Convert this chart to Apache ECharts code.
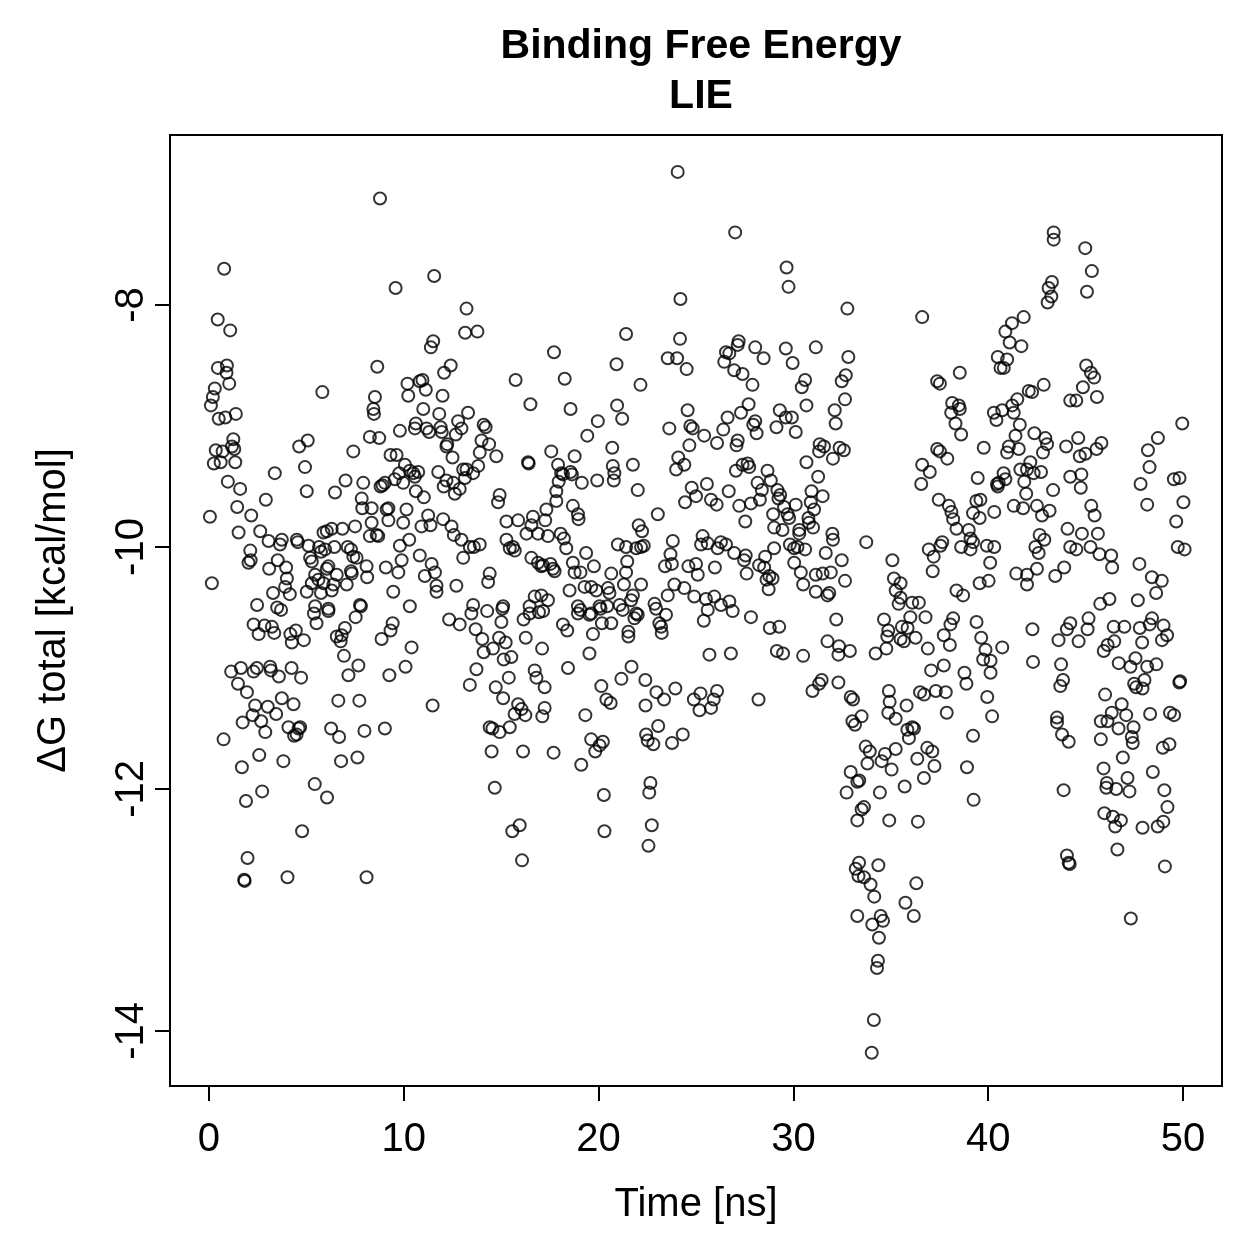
<!DOCTYPE html>
<html>
<head>
<meta charset="utf-8">
<script src="https://cdn.jsdelivr.net/npm/echarts@6/dist/echarts.min.js"></script>
<style>
  html, body { margin: 0; padding: 0; background: #fff; }
  #chart { width: 1259px; height: 1259px; }
</style>
</head>
<body>
<div id="chart"></div>
<script>
// axis ticks
var xTicks = [0, 10, 20, 30, 40, 50]
var yTicks = [-14, -12, -10, -8]

// [time ns, dG kcal/mol], grouped by 10 ns
var run0to10 = [
  [0.05,-9.75],[0.15,-10.30],[0.1,-8.83],[0.2,-8.76],[0.3,-8.69],[0.45,-8.12],[0.46,-8.52],[0.5,-8.94],[0.25,-9.31],[0.35,-9.20],
  [0.6,-9.30],[0.7,-9.21],[0.78,-7.70],[0.84,-8.93],[0.92,-8.50],[0.9,-8.56],[1.04,-8.65],[0.97,-9.46],[1.09,-8.21],[1.25,-9.11],
  [1.18,-9.17],[1.3,-9.19],[1.38,-8.90],[1.35,-9.30],[1.45,-9.67],[1.6,-9.52],[2.17,-9.74],[2.92,-9.61],[3.38,-9.39],[4.63,-9.17],
  [5.07,-9.12],[4.93,-9.34],[5.02,-9.54],[7.41,-9.21],[6.47,-9.55],[7.01,-9.45],[7.92,-9.47],[7.84,-9.60],[7.87,-9.68],[5.82,-8.72],
  [1.14,-11.03],[1.64,-11.0],[1.49,-11.13],[1.95,-11.20],[2.37,-11.31],[2.24,-11.39],[1.73,-11.45],[0.75,-11.59],[2.68,-11.44],[2.89,-11.53],
  [3.02,-11.32],[3.45,-11.38],[3.74,-11.25],[4.34,-11.30],[1.69,-11.82],[2.58,-11.72],[3.82,-11.77],[1.9,-12.10],[2.73,-12.02],[1.98,-12.57],
  [1.81,-12.75],[1.83,-12.76],[4.03,-12.73],[4.78,-12.35],[5.43,-11.96],[6.06,-12.07],[4.08,-11.49],[4.6,-11.50],[4.68,-11.49],[4.37,-11.56],
  [4.5,-11.55],[6.27,-11.50],[6.68,-11.57],[7.98,-11.52],[6.78,-11.77],[7.62,-11.74],[6.64,-11.27],[7.72,-11.27],[6.93,-10.90],[7.16,-11.06],
  [7.67,-10.98],[6.56,-10.74],[6.81,-10.73],[6.76,-10.78],[6.98,-10.67],[7.53,-10.58],[7.8,-10.49],[5.39,-10.55],[6.13,-10.53],[5.52,-10.63],
  [2.29,-10.64],[2.55,-10.72],[2.85,-10.65],[3.23,-10.66],[3.35,-10.71],[2.47,-10.48],[3.5,-10.50],[3.7,-10.52],[4.18,-10.72],[4.46,-10.69],
  [4.25,-10.79],[4.87,-10.77],[2.29,-11.03],[2.46,-11.0],[3.14,-10.99],[3.18,-11.02],[3.59,-11.07],[4.24,-11.0],[4.73,-11.08],
  [1.52,-9.88],[2.12,-10.03],[2.03,-10.13],[2.14,-10.11],[2.63,-9.87],[3.06,-9.95],[3.74,-9.94],[3.65,-9.98],[3.53,-10.11],[3.09,-10.18],
  [3.96,-10.17],[4.0,-10.26],[3.91,-10.33],[4.15,-10.39],[3.29,-10.38],[4.51,-9.94],[4.56,-9.96],[5.11,-9.99],[5.65,-10.00],[5.88,-9.88],
  [6.05,-9.87],[6.3,-9.85],[6.85,-9.85],[7.5,-9.83],[5.19,-10.09],[5.28,-10.12],[5.75,-10.04],[5.96,-10.02],[6.44,-10.0],[7.12,-10.0],
  [7.29,-10.02],[7.41,-10.08],[7.58,-10.09],[6.13,-10.16],[6.05,-10.18],[6.56,-10.23],[5.45,-10.23],[5.62,-10.27],[5.28,-10.30],[5.88,-10.30],
  [6.39,-10.31],[7.07,-10.31],[7.29,-10.20],[7.33,-10.22],[8.09,-10.16],[8.12,-10.25],[5.02,-10.37],[5.75,-10.38],[6.3,-10.36],[5.45,-10.49],
  [6.13,-10.51],[7.75,-10.48],
  [8.78,-7.12],[9.58,-7.86],[8.64,-8.51],[8.52,-8.76],[8.44,-8.86],[8.47,-8.90],[9.8,-9.04],[8.26,-9.09],[8.74,-9.10],[9.32,-9.24],
  [9.63,-9.24],[9.77,-9.39],[9.54,-9.44],[9.97,-9.47],[8.81,-9.50],[8.91,-9.49],[9.03,-9.47],[9.21,-9.68],[9.12,-9.69],[8.35,-9.68],
  [9.97,-9.80],[9.21,-9.78],[8.35,-9.80],[8.61,-9.90],[8.26,-9.91],[8.69,-9.91],[9.8,-9.99],[9.89,-10.11],[9.72,-10.21],[9.08,-10.17],
  [9.46,-10.37],[9.43,-10.63],[9.32,-10.69],[8.86,-10.76],[9.26,-11.06],[9.03,-11.50],[8.09,-12.73]
]

var run10to20 = [
  [10.19,-8.65],[10.82,-8.63],[10.96,-8.62],[11.13,-8.70],[10.23,-8.75],[11.56,-7.76],[13.22,-8.03],[13.15,-8.23],[13.78,-8.22],[11.51,-8.30],
  [11.39,-8.35],[12.41,-8.50],[12.07,-8.56],[15.74,-8.62],[16.5,-8.82],[11.99,-8.75],[11.0,-8.86],[11.82,-8.90],[13.3,-8.89],[10.62,-8.98],
  [10.57,-9.02],[11.17,-9.02],[11.3,-9.05],[11.89,-9.01],[11.95,-9.05],[12.79,-8.96],[12.96,-9.02],[12.67,-9.07],[14.1,-8.99],[14.2,-9.01],
  [13.99,-9.12],[14.38,-9.15],[12.23,-9.15],[12.19,-9.17],[12.5,-9.26],[13.9,-9.22],[14.75,-9.25],[16.38,-9.30],[16.41,-9.31],[10.06,-9.32],
  [10.31,-9.37],[10.49,-9.39],[10.74,-9.38],[10.57,-9.42],[11.77,-9.38],[12.19,-9.45],[12.05,-9.50],[12.54,-9.47],[12.62,-9.56],[12.87,-9.52],
  [13.05,-9.36],[13.22,-9.36],[13.56,-9.39],[13.82,-9.33],[13.14,-9.43],[10.62,-9.54],[11.03,-9.59],[14.92,-9.57],[14.84,-9.63],[10.14,-9.69],
  [11.25,-9.74],[11.37,-9.82],[10.91,-9.83],[12.02,-9.77],[12.45,-9.83],[12.57,-9.90],[12.96,-9.94],[13.39,-10.00],[13.6,-10.00],[13.9,-9.98],
  [10.28,-9.94],[10.82,-10.07],[11.43,-10.14],[11.6,-10.21],[11.08,-10.24],[11.68,-10.32],[11.68,-10.37],[12.7,-10.32],[13.05,-10.09],[10.31,-10.49],
  [14.41,-10.22],[14.33,-10.29],[13.56,-10.48],[15.1,-10.49],[15.27,-9.79],[15.87,-9.78],[16.63,-9.75],[16.55,-9.82],[16.89,-9.89],[17.32,-9.69],
  [15.27,-9.94],[15.61,-10.0],[15.7,-10.03],[15.44,-10.01],[16.3,-9.89],[16.55,-10.09],[16.89,-10.13],[17.06,-10.16],[16.72,-10.41],[17.06,-10.40],
  [16.46,-10.49],[10.4,-10.83],[10.09,-10.99],[11.48,-11.31],[12.33,-10.60],[12.87,-10.64],[13.47,-10.55],[14.28,-10.53],[15.06,-10.51],[15.01,-10.62],
  [13.69,-10.68],[14.03,-10.76],[14.58,-10.84],[14.1,-10.87],[14.89,-10.75],[15.23,-10.79],[15.13,-10.93],[15.52,-10.91],[13.73,-11.01],[13.39,-11.14],
  [14.72,-11.16],[15.39,-11.08],[15.1,-11.25],[16.15,-10.60],[16.46,-10.55],[16.94,-10.54],[16.26,-10.75],[17.1,-10.84],[16.72,-11.02],[16.81,-11.08],
  [17.23,-11.16],[15.87,-11.30],[16.04,-11.34],[16.24,-11.39],[15.69,-11.38],[17.11,-11.40],[17.23,-11.33],[14.41,-11.49],[14.55,-11.50],[14.92,-11.53],
  [15.44,-11.49],[14.51,-11.69],[16.12,-11.69],[14.67,-11.99],[15.95,-12.30],[15.57,-12.35],[16.07,-12.59],
  [17.71,-8.39],[18.26,-8.61],[18.56,-8.86],[19.96,-8.96],[19.42,-9.08],[17.57,-9.21],[18.77,-9.25],[17.92,-9.32],[18.08,-9.39],[18.17,-9.40],
  [18.56,-9.38],[18.63,-9.40],[17.95,-9.46],[19.14,-9.47],[19.93,-9.45],[17.83,-9.54],[17.83,-9.62],[18.68,-9.66],[18.94,-9.73],[18.97,-9.77],
  [17.26,-9.78],[17.4,-9.91],[18.05,-9.89],[18.22,-9.93],[18.34,-10.01],[19.36,-10.05],[18.68,-10.13],[18.77,-10.21],[19.07,-10.21],[19.76,-10.16],
  [17.53,-10.14],[17.66,-10.18],[17.74,-10.20],[17.14,-10.15],[18.51,-10.36],[19.28,-10.33],[19.62,-10.33],[19.88,-10.36],[18.94,-10.49],[17.15,-10.53],
  [17.4,-10.44],[18.17,-10.64],[18.39,-10.69],[18.94,-10.55],[19.07,-10.52],[19.53,-10.56],[19.62,-10.55],[19.71,-10.72],[19.53,-10.88],[18.43,-11.0],
  [19.32,-11.39],[19.62,-11.59],[19.83,-11.69],[17.69,-11.70],[19.11,-11.80]
]

var run20to30 = [
  [24.06,-6.90],[24.2,-7.95],[21.41,-8.24],[24.18,-8.28],[23.55,-8.44],[24.03,-8.44],[24.52,-8.53],[20.92,-8.49],[22.15,-8.66],[20.95,-8.83],
  [21.21,-8.94],[24.57,-8.87],[23.63,-9.02],[24.71,-9.0],[24.83,-9.02],[25.42,-9.08],[26.08,-9.14],[24.66,-9.16],[20.7,-9.18],[21.76,-9.32],
  [20.73,-9.33],[20.81,-9.39],[20.78,-9.45],[24.09,-9.26],[23.98,-9.36],[24.4,-9.32],[22.01,-9.53],[24.78,-9.51],[25.0,-9.58],[25.56,-9.48],
  [24.44,-9.63],[25.77,-9.61],[26.06,-9.65],[23.04,-9.73],[22.06,-9.82],[22.23,-9.87],[20.99,-9.98],[21.41,-10.0],[21.93,-10.01],[22.18,-10.0],
  [22.32,-9.99],[23.81,-9.95],[25.34,-9.91],[25.26,-9.98],[25.6,-9.97],[26.11,-10.01],[26.28,-9.96],[23.69,-10.06],[23.41,-10.16],[23.76,-10.14],
  [24.61,-10.16],[25.0,-10.14],[25.09,-10.23],[25.97,-10.17],[21.47,-10.12],[21.41,-10.21],[20.65,-10.22],[20.48,-10.34],[20.56,-10.38],[21.3,-10.31],
  [22.18,-10.31],[21.76,-10.40],[21.67,-10.44],[23.89,-10.31],[23.55,-10.40],[24.4,-10.34],[24.91,-10.41],[25.51,-10.43],[25.94,-10.41],[20.05,-10.49],
  [21.08,-10.48],[22.87,-10.47],[22.95,-10.51],[20.1,-10.51],[20.44,-10.49],[20.17,-10.63],[20.65,-10.63],[21.24,-10.52],[21.53,-10.70],[21.53,-10.74],
  [21.93,-10.55],[22.01,-10.56],[21.84,-10.59],[23.46,-10.56],[23.12,-10.63],[23.21,-10.66],[23.24,-10.71],[25.6,-10.52],[25.4,-10.61],[25.69,-10.89],
  [20.14,-11.15],[20.4,-11.26],[20.62,-11.29],[21.17,-11.09],[21.69,-10.99],[22.4,-11.10],[22.97,-11.20],[23.36,-11.26],[23.94,-11.17],[22.41,-11.31],
  [24.89,-11.26],[25.23,-11.21],[25.18,-11.35],[25.77,-11.33],[25.91,-11.26],[26.08,-11.19],[23.06,-11.48],[22.44,-11.55],[22.52,-11.60],[22.81,-11.63],
  [23.77,-11.62],[24.32,-11.55],[20.22,-11.61],[20.05,-11.64],[20.27,-12.05],[22.66,-11.95],[22.6,-12.03],[20.3,-12.35],[22.73,-12.30],[22.56,-12.47],
  [27.01,-7.40],[29.65,-7.69],[29.75,-7.85],[27.19,-8.30],[27.14,-8.33],[26.54,-8.39],[26.71,-8.40],[26.45,-8.47],[28.04,-8.35],[28.47,-8.44],
  [26.96,-8.54],[27.39,-8.57],[27.9,-8.66],[29.61,-8.36],[29.96,-8.48],[27.7,-8.82],[27.31,-8.89],[26.62,-8.93],[26.4,-9.03],[27.14,-9.12],
  [28.04,-8.96],[27.94,-8.99],[28.11,-9.06],[29.3,-8.87],[29.61,-8.93],[29.92,-8.93],[29.13,-9.01],[28.96,-9.73],[29.01,-9.84],[29.44,-9.86],
  [29.52,-9.67],[29.23,-9.60],[29.32,-9.57],[29.18,-9.53],[28.84,-9.45],[28.67,-9.37],[28.16,-9.47],[28.38,-9.53],[28.28,-9.61],[27.82,-9.64],
  [27.22,-9.66],[27.53,-9.79],[26.68,-9.54],[27.05,-9.37],[27.39,-9.32],[27.65,-9.31],[27.73,-9.34],[27.08,-9.16],[26.54,-9.98],[26.96,-10.05],
  [27.55,-10.07],[27.47,-10.11],[27.6,-10.22],[28.55,-10.08],[28.24,-10.15],[28.5,-10.17],[28.62,-10.27],[28.76,-10.24],[28.93,-10.26],[28.73,-10.35],
  [29.01,-10.01],[29.82,-9.98],[26.71,-10.45],[26.28,-10.48],[26.88,-10.53],[27.82,-10.58],[28.79,-10.67],[29.27,-10.66],[26.79,-10.88],[29.15,-10.86],
  [29.47,-10.88],[28.21,-11.26],[29.78,-9.76],[29.7,-9.73]
]

var run30to40 = [
  [32.77,-8.03],[31.15,-8.35],[32.82,-8.43],[32.69,-8.58],[32.48,-8.63],[30.6,-8.62],[30.43,-8.68],[32.65,-8.78],[30.67,-8.83],[32.12,-8.87],
  [32.17,-8.98],[30.12,-9.05],[31.35,-9.15],[31.57,-9.17],[31.32,-9.21],[32.03,-9.27],[32.37,-9.18],[32.59,-9.20],[30.67,-9.30],[31.27,-9.42],
  [30.93,-9.54],[31.5,-9.58],[30.89,-9.63],[31.06,-9.69],[30.77,-9.76],[30.8,-9.80],[31.01,-9.84],[30.12,-9.65],[30.3,-9.86],[30.3,-9.89],
  [32.0,-9.89],[32.03,-9.94],[33.74,-9.96],[30.04,-10.01],[30.21,-10.00],[30.6,-10.02],[30.04,-10.13],[30.38,-10.21],[30.5,-10.31],[31.15,-10.23],
  [31.5,-10.22],[31.92,-10.21],[31.66,-10.05],[32.48,-10.11],[32.65,-10.28],[31.15,-10.37],[31.84,-10.38],[31.75,-10.40],[35.08,-10.11],[35.16,-10.26],
  [35.25,-10.36],[30.5,-10.90],[32.2,-10.60],[31.75,-10.78],[32.34,-10.82],[32.31,-10.89],[32.9,-10.86],[34.22,-10.88],[34.65,-10.60],[34.87,-10.69],
  [34.82,-10.74],[34.77,-10.84],[31.45,-11.10],[31.32,-11.13],[30.98,-11.19],[32.31,-11.12],[32.94,-11.24],[33.06,-11.26],[33.5,-11.40],[33.03,-11.44],
  [33.16,-11.47],[34.9,-11.19],[34.94,-11.28],[34.87,-11.37],[35.25,-11.42],[33.71,-11.65],[33.92,-11.69],[33.8,-11.79],[34.7,-11.71],[34.53,-11.77],
  [35.04,-11.84],[35.25,-11.67],[32.94,-11.86],[33.38,-11.93],[33.28,-11.94],[32.73,-12.03],[34.44,-12.03],[33.62,-12.15],[33.5,-12.17],[33.28,-12.26],
  [34.92,-12.26],[33.37,-12.61],[33.2,-12.66],[33.34,-12.72],[33.62,-12.73],[33.96,-12.79],[34.36,-12.63],[34.15,-12.89],[33.28,-13.05],[34.05,-13.12],
  [34.48,-13.05],[34.6,-13.09],[34.39,-13.23],[34.34,-13.42],[34.29,-13.48],[34.13,-13.91],[34.02,-14.18],
  [36.61,-8.10],[38.54,-8.56],[37.38,-8.63],[37.52,-8.65],[38.15,-8.81],[38.49,-8.83],[38.54,-8.86],[38.1,-8.89],[38.32,-8.98],[38.61,-9.07],
  [39.77,-9.18],[37.38,-9.19],[37.52,-9.21],[37.9,-9.27],[36.61,-9.32],[37.0,-9.38],[36.56,-9.48],[39.46,-9.43],[37.46,-9.61],[37.98,-9.66],
  [38.11,-9.71],[38.2,-9.77],[38.37,-9.85],[39.0,-9.86],[39.09,-9.93],[39.22,-9.96],[38.61,-10.00],[39.09,-10.02],[39.6,-9.61],[39.39,-9.62],
  [39.22,-9.72],[39.56,-9.76],[39.93,-9.99],[37.64,-9.96],[37.55,-9.99],[36.95,-10.02],[37.2,-10.08],[37.15,-10.20],[38.37,-10.36],[38.71,-10.40],
  [39.56,-10.30],[35.5,-10.30],[35.5,-10.42],[36.1,-10.46],[36.44,-10.46],[35.4,-10.47],[36.0,-10.58],[35.57,-10.66],[35.86,-10.67],[35.5,-10.76],
  [35.67,-10.78],[36.27,-10.75],[36.9,-10.84],[36.78,-10.58],[37.72,-10.73],[38.06,-10.64],[38.2,-10.59],[38.03,-10.81],[37.07,-11.02],[37.72,-10.98],
  [38.78,-11.04],[38.88,-11.13],[39.4,-10.62],[39.64,-10.75],[39.86,-10.85],[39.74,-10.93],[39.95,-11.24],[35.81,-11.31],[35.85,-11.51],[36.1,-11.49],
  [36.19,-11.50],[35.93,-11.58],[36.5,-11.20],[36.71,-11.22],[37.31,-11.19],[37.82,-11.20],[37.87,-11.37],[36.36,-11.75],[36.87,-11.66],[37.13,-11.69],
  [37.24,-11.81],[36.7,-11.91],[35.71,-11.98],[39.22,-11.56],[38.91,-11.82],[39.25,-12.09],[36.39,-12.27],[36.31,-12.78],[35.75,-12.94],[36.18,-13.05]
]

var run40to50 = [
  [43.36,-7.40],[43.36,-7.46],[43.27,-7.81],[43.1,-7.86],[43.24,-7.93],[43.05,-7.98],[41.82,-8.10],[41.22,-8.15],[40.88,-8.22],[41.1,-8.31],
  [41.7,-8.34],[40.49,-8.43],[40.97,-8.45],[40.63,-8.52],[40.8,-8.52],[42.08,-8.71],[42.25,-8.72],[42.85,-8.66],[41.49,-8.78],[41.23,-8.83],
  [41.31,-8.89],[40.72,-8.87],[40.29,-8.89],[40.42,-8.95],[41.62,-8.99],[41.4,-9.08],[41.06,-9.17],[40.97,-9.22],[41.57,-9.19],[42.37,-9.06],
  [42.93,-9.10],[43.02,-9.15],[42.81,-9.22],[42.16,-9.30],[41.65,-9.36],[41.99,-9.36],[42.33,-9.39],[42.71,-9.38],[40.79,-9.39],[40.88,-9.44],
  [40.54,-9.47],[40.49,-9.50],[41.85,-9.46],[41.95,-9.56],[43.33,-9.53],[41.31,-9.66],[41.79,-9.68],[42.5,-9.66],[42.76,-9.74],[43.15,-9.70],
  [42.64,-9.90],[42.88,-9.94],[42.42,-10.00],[42.59,-10.05],[42.5,-10.18],[43.44,-10.24],[43.9,-10.17],[44.21,-8.79],[44.0,-9.17],[44.21,-9.42],
  [44.07,-9.85],[44.21,-10.00],[40.45,-9.48],[40.31,-9.71],[40.31,-10.00],[40.1,-10.13],[40.02,-10.28],[41.44,-10.22],[41.99,-10.23],[41.99,-10.31],
  [40.12,-10.94],[40.12,-11.04],[40.72,-10.83],[40.2,-11.40],[42.27,-10.68],[42.3,-10.95],[43.61,-10.77],[43.74,-10.97],[43.7,-11.15],[43.84,-11.10],
  [44.04,-10.68],[44.21,-10.63],[43.53,-11.41],[43.53,-11.45],[43.79,-11.55],[44.13,-11.61],[43.87,-12.01],[44.04,-12.55],[44.13,-12.61],[44.18,-12.62],
  [44.98,-7.53],[45.32,-7.72],[45.07,-7.89],[45.03,-8.50],[45.27,-8.56],[45.44,-8.60],[44.86,-8.68],[44.52,-8.79],[45.58,-8.76],[49.96,-8.98],
  [48.71,-9.10],[48.2,-9.20],[48.28,-9.34],[47.82,-9.48],[48.16,-9.65],[49.53,-9.44],[49.82,-9.43],[50.02,-9.63],[49.65,-9.79],[49.73,-10.00],
  [50.08,-10.02],[47.76,-10.14],[48.4,-10.25],[48.91,-10.28],[48.62,-10.38],[47.68,-10.44],[46.31,-10.07],[46.36,-10.17],[45.71,-10.06],[45.25,-10.00],
  [45.63,-9.89],[44.81,-9.89],[44.52,-10.02],[45.29,-9.66],[45.46,-9.74],[44.78,-9.40],[44.75,-9.51],[44.62,-9.10],[44.7,-9.25],[44.99,-9.23],
  [45.56,-9.19],[45.81,-9.14],[45.75,-10.47],[46.22,-10.43],[45.15,-10.59],[45.1,-10.68],[44.64,-10.78],[45.93,-10.86],[46.13,-10.81],[46.47,-10.78],
  [46.44,-10.66],[46.99,-10.66],[47.78,-10.67],[47.9,-10.79],[48.29,-10.64],[48.41,-10.59],[49.0,-10.65],[48.92,-10.77],[49.18,-10.73],[46.7,-10.96],
  [47.3,-10.99],[47.56,-10.92],[48.02,-11.10],[48.16,-10.99],[48.63,-10.97],[47.92,-11.17],[47.59,-11.16],[47.49,-11.13],[49.81,-11.12],[49.85,-11.11],
  [46.0,-11.22],[46.85,-11.30],[46.34,-11.37],[47.08,-11.39],[46.12,-11.44],[45.78,-11.44],[46.69,-11.50],[47.46,-11.49],[47.37,-11.57],[47.42,-11.62],
  [45.78,-11.59],[48.31,-11.38],[49.33,-11.37],[49.54,-11.39],[48.96,-11.66],[49.3,-11.63],[46.91,-11.74],[45.92,-11.83],[46.09,-11.95],[46.06,-11.99],
  [46.57,-12.00],[47.15,-11.91],[47.25,-12.02],[48.45,-11.86],[49.04,-12.01],[49.2,-12.15],[45.96,-12.20],[46.4,-12.23],[46.81,-12.26],[46.52,-12.31],
  [47.92,-12.32],[48.7,-12.31],[48.99,-12.27],[46.63,-12.50],[49.07,-12.64],[47.32,-13.07]
]

var allPoints = run0to10.concat(run10to20, run20to30, run30to40, run40to50)

var font = 'Liberation Sans, Arial, Helvetica, sans-serif'
var chart = echarts.init(document.getElementById('chart'), null, { renderer: 'canvas' })

chart.setOption({
  animation: false,
  backgroundColor: '#fff',
  title: {
    text: 'Binding Free Energy\nLIE',
    left: 696,
    top: 17,
    textAlign: 'center',
    textStyle: { fontFamily: font, fontSize: 41, fontWeight: 'bold', color: '#000', lineHeight: 50 }
  },
  grid: {
    left: 170, top: 135, width: 1052, height: 951,
    show: true, borderColor: '#000', borderWidth: 2, backgroundColor: 'transparent'
  },
  xAxis: {
    type: 'value',
    min: -2, max: 52,
    name: 'Time [ns]',
    nameLocation: 'middle',
    nameGap: 99,
    nameTextStyle: { fontFamily: font, fontSize: 40, color: '#000' },
    axisLine: { show: false, onZero: false },
    splitLine: { show: false },
    axisTick: { show: true, length: 15, customValues: xTicks, lineStyle: { color: '#000', width: 2 } },
    axisLabel: { customValues: xTicks, fontFamily: font, fontSize: 40, color: '#000', margin: 34 }
  },
  yAxis: {
    type: 'value',
    min: -14.455, max: -6.595,
    name: 'ΔG total [kcal/mol]',
    nameLocation: 'middle',
    nameGap: 96,
    nameTextStyle: { fontFamily: font, fontSize: 40, color: '#000' },
    axisLine: { show: false, onZero: false },
    splitLine: { show: false },
    axisTick: { show: true, length: 15, customValues: yTicks, lineStyle: { color: '#000', width: 2 } },
    axisLabel: { customValues: yTicks, rotate: 90, fontFamily: font, fontSize: 40, color: '#000', margin: 18 }
  },
  series: [{
    type: 'scatter',
    data: allPoints,
    symbol: 'circle',
    symbolSize: 12,
    itemStyle: { color: 'rgba(0,0,0,0)', borderColor: '#000', borderWidth: 2 },
    emphasis: { disabled: true }
  }]
})
</script>
</body>
</html>
